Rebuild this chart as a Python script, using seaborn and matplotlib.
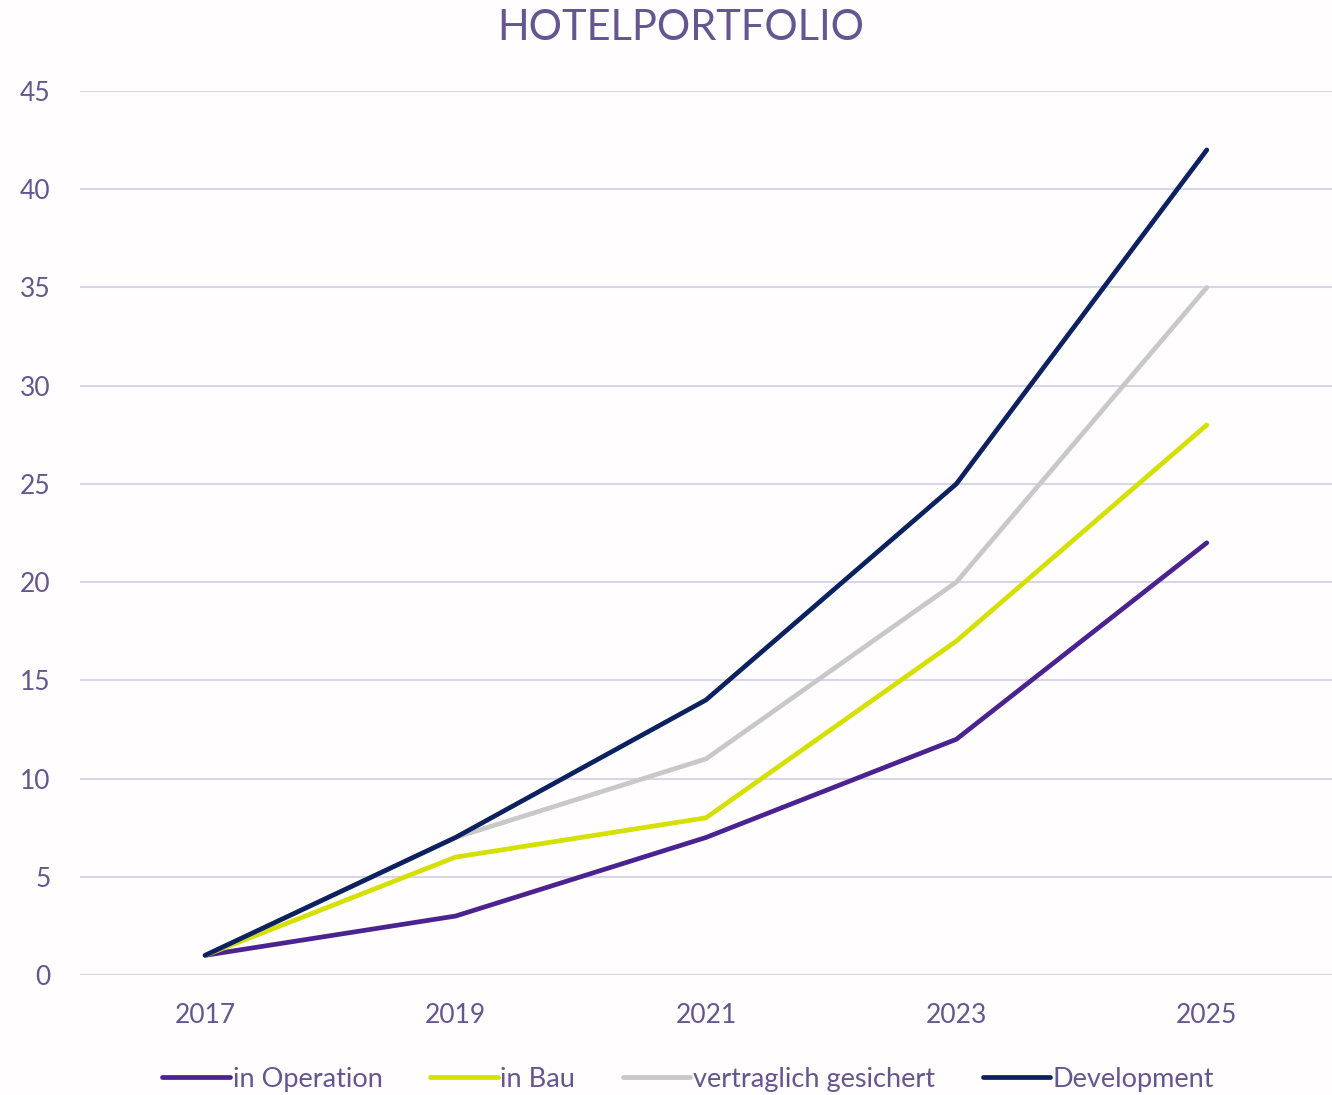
import pandas as pd
import seaborn as sns
import matplotlib.pyplot as plt

# data
years = ["2017", "2019", "2021", "2023", "2025"]
in_operation = [1, 3, 7, 12, 22]
in_bau = [1, 6, 8, 17, 28]
vertraglich = [1, 7, 11, 20, 35]
development = [1, 7, 14, 25, 42]

series_names = ["in Operation", "in Bau", "vertraglich gesichert", "Development"]
series_colors = ["#4B2391", "#D5E000", "#C8C8C8", "#0B2160"]
text_color = "#65568F"
grid_color = "#D9D5E8"

rows = []
for name, vals in zip(series_names, [in_operation, in_bau, vertraglich, development]):
    for i, v in enumerate(vals):
        rows.append({"idx": i, "year": years[i], "value": v, "series": name})
df = pd.DataFrame(rows)

sns.set_theme(style="white")
plt.rcParams["font.family"] = ["Lato", "DejaVu Sans"]

fig = plt.figure(figsize=(13.32, 10.95), dpi=100)
fig.patch.set_facecolor("#FFFDFD")
ax = fig.add_axes([0.06, 0.1096, 0.94, 0.8073])
ax.set_facecolor("#FFFDFD")

sns.lineplot(data=df, x="idx", y="value", hue="series", hue_order=series_names,
             palette=series_colors, linewidth=3.4, ax=ax, legend=True,
             solid_capstyle="round")

ax.set_xlim(-0.5, 4.5)
ax.set_ylim(0, 45)
ax.set_yticks(range(0, 46, 5))
ax.set_xticks(range(len(years)))
ax.set_xticklabels(years)
ax.yaxis.grid(True, color=grid_color, linewidth=1.5)
ax.set_axisbelow(True)
for s in ax.spines.values():
    s.set_visible(False)
ax.tick_params(axis="both", colors=text_color, labelsize=19, length=0)
ax.tick_params(axis="x", pad=20)
ax.tick_params(axis="y", pad=21)
ax.set_xlabel("")
ax.set_ylabel("")

fig.text(0.511, 0.974, "HOTELPORTFOLIO", ha="center", va="center",
         fontsize=30, color=text_color)

handles, labels = ax.get_legend_handles_labels()
ax.legend(handles, labels, loc="center", bbox_to_anchor=(0.486, -0.118),
          ncol=4, frameon=False, fontsize=19.5, labelcolor=text_color,
          handlelength=2.5, handletextpad=0.1, columnspacing=1.75)

fig.savefig("out.png", dpi=100)
